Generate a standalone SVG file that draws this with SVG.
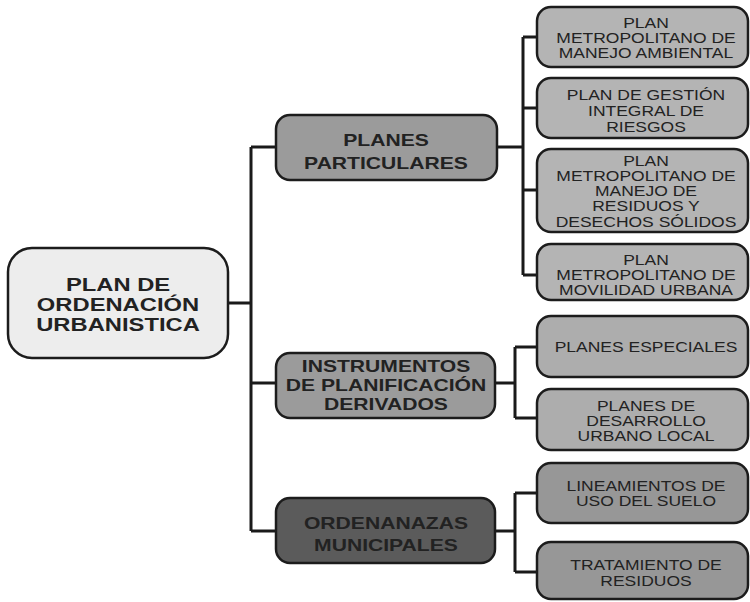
<svg xmlns="http://www.w3.org/2000/svg" width="750" height="602" viewBox="0 0 750 602">
<style>
.box{stroke:#1c1c1c;stroke-width:2.5}
.root{fill:#ededed}
.p{fill:#9b9b9b}
.pd{fill:#5b5b5b}
.c1{fill:#b4b4b4}
.c2{fill:#adadad}
.c3{fill:#979797}
text{font-family:"Liberation Sans",Arial,sans-serif;text-anchor:middle;fill:#222222}
.tr{font-size:18px;font-weight:bold}
.tp{font-size:16.5px;font-weight:bold}
.tc{font-size:14px}
.conn{fill:none;stroke:#1a1a1a;stroke-width:3}
</style>
<rect width="750" height="602" fill="#ffffff"/>
<g id="connectors" class="conn">
<path d="M228 303H251M251 147V531M251 147H276M251 383H276M251 531H276"/>
<path d="M497 147H523M523 37V275M523 37H537M523 108H537M523 190H537M523 275H537"/>
<path d="M495 383H515M515 347V418M515 347H537M515 418H537"/>
<path d="M495 531H515M515 493V572M515 493H537M515 572H537"/>
</g>
<g id="root">
<rect class="box root" x="8" y="248" width="220" height="110" rx="24"/>
<text class="tr" transform="translate(118 0) scale(1.32 1)"><tspan x="0" y="291">PLAN DE</tspan><tspan x="0" y="311">ORDENACIÓN</tspan><tspan x="0" y="331">URBANISTICA</tspan></text>
</g>
<g id="planes-particulares">
<rect class="box p" x="276" y="115" width="221" height="65" rx="14"/>
<text class="tp" transform="translate(386 0) scale(1.28 1)"><tspan x="0" y="146">PLANES</tspan><tspan x="0" y="169">PARTICULARES</tspan></text>
</g>
<g id="instrumentos">
<rect class="box p" x="276" y="353" width="219" height="65" rx="14"/>
<text class="tp" transform="translate(386 0) scale(1.28 1)"><tspan x="0" y="372">INSTRUMENTOS</tspan><tspan x="0" y="391">DE PLANIFICACIÓN</tspan><tspan x="0" y="410">DERIVADOS</tspan></text>
</g>
<g id="ordenanazas">
<rect class="box pd" x="276" y="498" width="219" height="65" rx="14"/>
<text class="tp" transform="translate(386 0) scale(1.28 1)"><tspan x="0" y="529">ORDENANAZAS</tspan><tspan x="0" y="551">MUNICIPALES</tspan></text>
</g>
<g id="pm-ambiental">
<rect class="box c1" x="537" y="7" width="211" height="60" rx="14"/>
<text class="tc" transform="translate(646 0) scale(1.25 1)"><tspan x="0" y="28">PLAN</tspan><tspan x="0" y="43">METROPOLITANO DE</tspan><tspan x="0" y="58">MANEJO AMBIENTAL</tspan></text>
</g>
<g id="pg-riesgos">
<rect class="box c1" x="537" y="78" width="211" height="60" rx="14"/>
<text class="tc" transform="translate(646 0) scale(1.25 1)"><tspan x="0" y="100">PLAN DE GESTIÓN</tspan><tspan x="0" y="116">INTEGRAL DE</tspan><tspan x="0" y="132">RIESGOS</tspan></text>
</g>
<g id="pm-residuos">
<rect class="box c1" x="537" y="149" width="211" height="83" rx="14"/>
<text class="tc" transform="translate(646 0) scale(1.25 1)"><tspan x="0" y="166">PLAN</tspan><tspan x="0" y="181.5">METROPOLITANO DE</tspan><tspan x="0" y="196.5">MANEJO DE</tspan><tspan x="0" y="211.5">RESIDUOS Y</tspan><tspan x="0" y="227">DESECHOS SÓLIDOS</tspan></text>
</g>
<g id="pm-movilidad">
<rect class="box c1" x="537" y="244" width="211" height="56" rx="14"/>
<text class="tc" transform="translate(646 0) scale(1.25 1)"><tspan x="0" y="265">PLAN</tspan><tspan x="0" y="280">METROPOLITANO DE</tspan><tspan x="0" y="295">MOVILIDAD URBANA</tspan></text>
</g>
<g id="planes-especiales">
<rect class="box c2" x="537" y="316" width="211" height="61" rx="14"/>
<text class="tc" transform="translate(646 0) scale(1.25 1)"><tspan x="0" y="352.5">PLANES ESPECIALES</tspan></text>
</g>
<g id="planes-desarrollo">
<rect class="box c2" x="537" y="389" width="211" height="61" rx="14"/>
<text class="tc" transform="translate(646 0) scale(1.25 1)"><tspan x="0" y="411">PLANES DE</tspan><tspan x="0" y="426">DESARROLLO</tspan><tspan x="0" y="441">URBANO LOCAL</tspan></text>
</g>
<g id="lineamientos">
<rect class="box c3" x="537" y="463" width="211" height="60" rx="14"/>
<text class="tc" transform="translate(646 0) scale(1.25 1)"><tspan x="0" y="491.5">LINEAMIENTOS DE</tspan><tspan x="0" y="506.5">USO DEL SUELO</tspan></text>
</g>
<g id="tratamiento">
<rect class="box c3" x="537" y="542" width="211" height="57" rx="14"/>
<text class="tc" transform="translate(646 0) scale(1.25 1)"><tspan x="0" y="570">TRATAMIENTO DE</tspan><tspan x="0" y="586">RESIDUOS</tspan></text>
</g>
</svg>
